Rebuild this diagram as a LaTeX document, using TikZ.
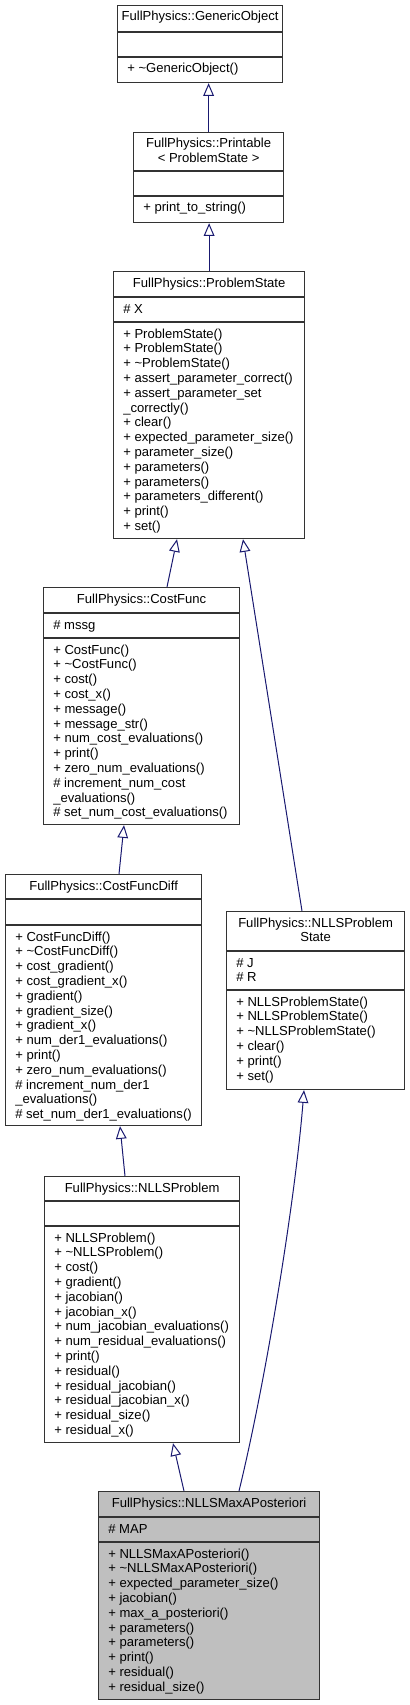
\documentclass[tikz,border=0pt]{standalone}
\usepackage{fontspec}
\setmainfont{Liberation Sans}
\usepackage{xcolor}
\definecolor{edgeblue}{HTML}{191970}
\definecolor{boxgray}{gray}{0.75}
\usetikzlibrary{arrows.meta, calc, positioning}

\tikzset{
	classbox/.style={draw=black!80, line width=0.9pt, inner sep=0pt, anchor=north west},
	sepline/.style={draw=black!80, line width=0.9pt},
	member/.style={inner sep=0pt, anchor=base west, font=\fontsize{9.8pt}{11pt}\selectfont},
	classtitle/.style={inner sep=0pt, anchor=base, font=\fontsize{9.8pt}{11pt}\selectfont},
	inherit/.style={draw=edgeblue, line width=0.75pt, -{Triangle[open, length=9.5pt, width=8pt]}}
}

% box: [fill] name, left, top, right, bottom, 1st line, 2nd line
\newcommand{\classbox}[8][white]{%
	\node[classbox, fill=#1, minimum width={(#5-#3)*0.75pt}, minimum height={(#6-#4)*0.75pt}] (#2) at (#3,#4) {};
	\draw[sepline] (#2.west |- 0,#7) -- (#2.east |- 0,#7);
	\draw[sepline] (#2.west |- 0,#8) -- (#2.east |- 0,#8);
}
\newcommand{\classname}[2]{%
	\foreach \t [count=\i from 0] in {#2}
		\node[classtitle] (#1-t\i) at ($(#1.north)+(0,16+14.8*\i)$) {\t};
}
\newcommand{\members}[4]{%
	\foreach \m [count=\i from 0] in {#4}
		\node[member] (#1-#2\i) at ($(#1.west |- 0,#3)+(10,16+14.8*\i)$) {\m};
}

\begin{document}
\begin{tikzpicture}[x=0.75pt, y=-0.75pt]

\useasboundingbox (0,0) rectangle (410,1705);

% classes
\classbox{gen}{117}{5}{282}{82}{32}{57}
\classname{gen}{FullPhysics::GenericObject}
\members{gen}{m}{57}{+ \textasciitilde GenericObject()}

\classbox{prt}{133}{132}{283}{222}{171}{196}
\classname{prt}{FullPhysics::Printable, < ProblemState >}
\members{prt}{m}{196}{+ print\_to\_string()}

\classbox{ps}{113}{271}{304}{538}{297}{322}
\classname{ps}{FullPhysics::ProblemState}
\members{ps}{a}{297}{\# X}
\members{ps}{m}{322}{+ ProblemState(), + ProblemState(), + \textasciitilde ProblemState(),
	+ assert\_parameter\_correct(), + assert\_parameter\_set, \_correctly(), + clear(),
	+ expected\_parameter\_size(), + parameter\_size(), + parameters(), + parameters(),
	+ parameters\_different(), + print(), + set()}

\classbox{cf}{43}{587}{239}{824}{613}{638}
\classname{cf}{FullPhysics::CostFunc}
\members{cf}{a}{613}{\# mssg}
\members{cf}{m}{638}{+ CostFunc(), + \textasciitilde CostFunc(), + cost(), + cost\_x(), + message(),
	+ message\_str(), + num\_cost\_evaluations(), + print(), + zero\_num\_evaluations(),
	\# increment\_num\_cost, \_evaluations(), \# set\_num\_cost\_evaluations()}

\classbox{cfd}{5}{874}{201}{1125}{899}{925}
\classname{cfd}{FullPhysics::CostFuncDiff}
\members{cfd}{m}{925}{+ CostFuncDiff(), + \textasciitilde CostFuncDiff(), + cost\_gradient(),
	+ cost\_gradient\_x(), + gradient(), + gradient\_size(), + gradient\_x(),
	+ num\_der1\_evaluations(), + print(), + zero\_num\_evaluations(),
	\# increment\_num\_der1, \_evaluations(), \# set\_num\_der1\_evaluations()}

\classbox{nps}{226}{911}{404}{1089}{951}{990}
\classname{nps}{FullPhysics::NLLSProblem, State}
\members{nps}{a}{951}{\# J, \# R}
\members{nps}{m}{990}{+ NLLSProblemState(), + NLLSProblemState(), + \textasciitilde NLLSProblemState(),
	+ clear(), + print(), + set()}

\classbox{np}{44}{1176}{239}{1442}{1201}{1226}
\classname{np}{FullPhysics::NLLSProblem}
\members{np}{m}{1226}{+ NLLSProblem(), + \textasciitilde NLLSProblem(), + cost(), + gradient(),
	+ jacobian(), + jacobian\_x(), + num\_jacobian\_evaluations(), + num\_residual\_evaluations(),
	+ print(), + residual(), + residual\_jacobian(), + residual\_jacobian\_x(),
	+ residual\_size(), + residual\_x()}

\classbox[boxgray]{nmap}{98}{1491}{319}{1699}{1517}{1542}
\classname{nmap}{FullPhysics::NLLSMaxAPosteriori}
\members{nmap}{a}{1517}{\# MAP}
\members{nmap}{m}{1542}{+ NLLSMaxAPosteriori(), + \textasciitilde NLLSMaxAPosteriori(),
	+ expected\_parameter\_size(), + jacobian(), + max\_a\_posteriori(), + parameters(),
	+ parameters(), + print(), + residual(), + residual\_size()}

% inheritance
\draw[inherit] (prt.north) -- (prt.north |- gen.south);
\draw[inherit] (ps.north) -- (ps.north |- prt.south);
\draw[inherit] ($(cf.north west)+(124,0)$) -- ($(ps.south west)+(64,0)$);
\draw[inherit] ($(nps.north west)+(76,0)$) -- ($(ps.south west)+(130,0)$);
\draw[inherit] ($(cfd.north west)+(114,0)$) -- ($(cf.south west)+(81,0)$);
\draw[inherit] ($(np.north west)+(81,0)$) -- ($(cfd.south west)+(115,0)$);
\draw[inherit] ($(nmap.north west)+(86,0)$) -- ($(np.south west)+(129,0)$);
\draw[inherit] ($(nmap.north west)+(141,0)$) .. controls +(27,-111) and +(-9,111) .. ($(nps.south west)+(78,0)$);

\end{tikzpicture}
\end{document}
